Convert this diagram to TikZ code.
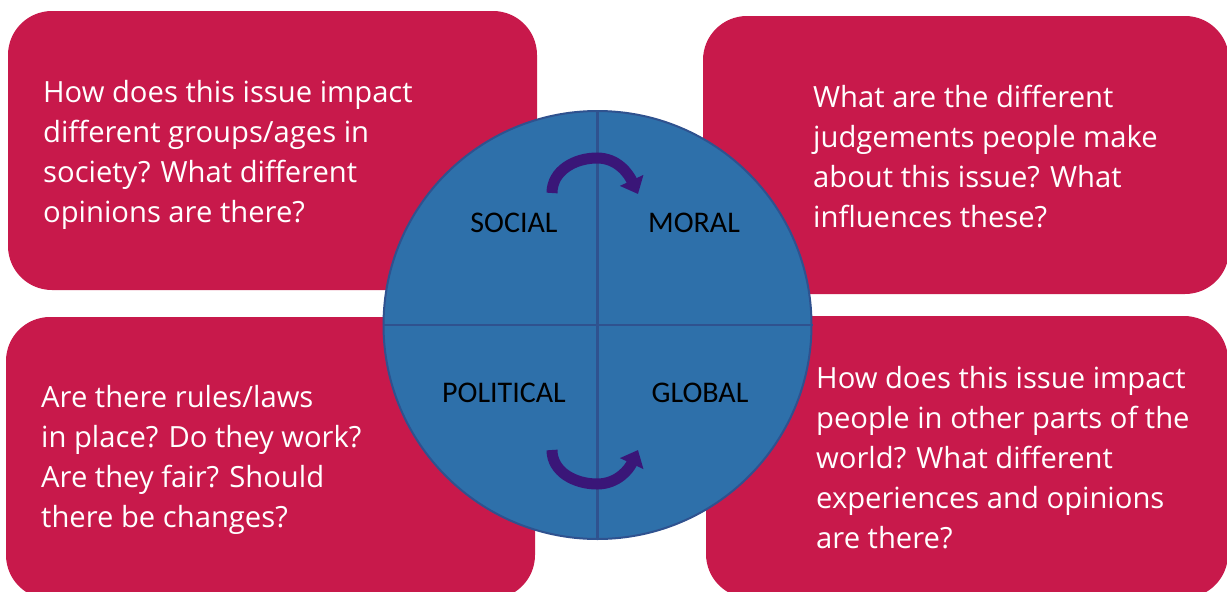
\documentclass[tikz,border=0pt]{standalone}
\usepackage{fontspec}
\setmainfont{Open Sans}
\newfontfamily\labelfont{Carlito}
\usetikzlibrary{positioning, arrows.meta}
\definecolor{issuered}{RGB}{200,25,75}
\definecolor{wheelblue}{RGB}{46,112,170}
\definecolor{wheeledge}{RGB}{47,82,143}
\definecolor{cyclepurple}{RGB}{58,22,120}
\tikzset{
  qbox/.style={draw=none, fill=issuered, rounded corners=44pt, inner sep=0pt}, % the four question boxes
  qtext/.style={text=white, align=left, inner sep=0pt, anchor=north west,
    font=\fontsize{29.2}{40}\selectfont},
  lens/.style={font=\labelfont\fontsize{30}{34}\selectfont, text=black, inner sep=0pt},
  cyclearrow/.style={draw=cyclepurple, line width=11pt,
    -{Triangle[length=15pt, width=25pt]}},
}

\begin{document}
\begin{tikzpicture}[x=1pt, y=-1pt]
      \useasboundingbox (0,0) rectangle (1227,592);
      \clip (0,0) rectangle (1227,592);

      % question boxes
      \node[qbox, minimum width=529pt, minimum height=279pt] (socbox) at (272.5,150.5) {};
      \node[qbox, minimum width=526pt, minimum height=278pt] (morbox) at (966,155) {};
      \node[qbox, minimum width=529pt, minimum height=282pt] (polbox) at (270.5,458) {};
      \node[qbox, minimum width=522pt, minimum height=282pt] (globox) at (967,457) {};

      \node[qtext] (soctext) at (43,80) {How does this issue impact\\different groups/ages in\\society? What different\\opinions are there?};
      \node[qtext] (mortext) at (813,85) {What are the different\\judgements people make\\about this issue? What\\influences these?};
      \node[qtext] (poltext) at (41,385) {Are there rules/laws\\in place? Do they work?\\Are they fair? Should\\there be changes?};
      \node[qtext] (glotext) at (816,366) {How does this issue impact\\people in other parts of the\\world? What different\\experiences and opinions\\are there?};

      % the wheel
      \node[circle, draw=wheeledge, line width=2pt, fill=wheelblue, minimum size=428pt, inner sep=0pt] (wheel) at (597.5,325) {};
      \draw[wheeledge, line width=2.5pt] (wheel.north) -- (wheel.south)
      (wheel.west) -- (wheel.east);

      \node[lens] (social) at (514,223) {SOCIAL};
      \node[lens] (moral) at (694,223) {MORAL};
      \node[lens] (political) at (504,393) {POLITICAL};
      \node[lens] (global) at (700,393) {GLOBAL};

      % cycle arrows
      \coordinate (topstart) at (552,193);
      \coordinate (toppeak) at (597,158);
      \coordinate (topend) at (638,194);
      \coordinate (botstart) at (552,450);
      \coordinate (botlow) at (597,484);
      \coordinate (botend) at (638,450);
      \draw[cyclearrow] (topstart) to[out=90, in=180] (toppeak)
        to[out=0, in=115] (topend);
      \draw[cyclearrow] (botstart) to[out=-90, in=180] (botlow)
        to[out=0, in=-115] (botend);
    \end{tikzpicture}
\end{document}
